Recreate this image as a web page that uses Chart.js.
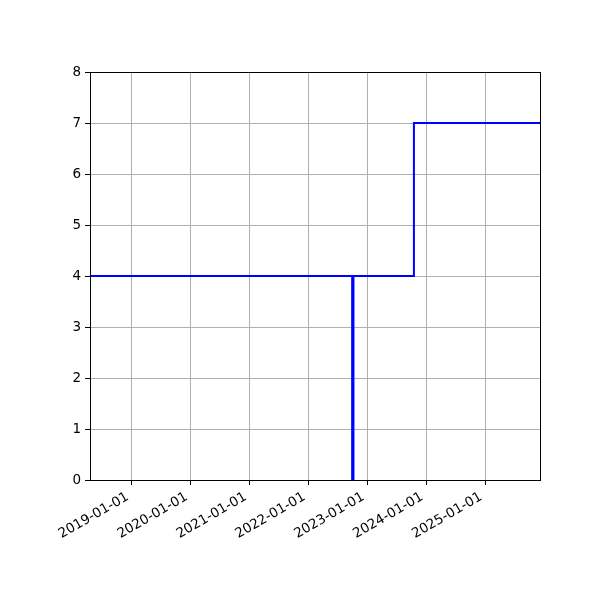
<!DOCTYPE html>
<html>
<head>
<meta charset="utf-8">
<script src="https://cdn.jsdelivr.net/npm/chart.js@4"></script>
<style>
  html, body { margin: 0; padding: 0; background: #fff; }
  #wrap { width: 600px; height: 600px; }
</style>
</head>
<body>
<div id="wrap"><canvas id="chart" width="600" height="600"></canvas></div>
<script>
// step data (value holds until the next date)
const dates = ['2018-04-17', '2022-09-29', '2022-10-07', '2023-10-17', '2025-12-07'];
const values = [4, 0, 4, 7, 7];
const tickDates = ['2019-01-01', '2020-01-01', '2021-01-01', '2022-01-01', '2023-01-01', '2024-01-01', '2025-01-01'];
const yTicks = [0, 1, 2, 3, 4, 5, 6, 7, 8];

const toMs = s => Date.parse(s + 'T00:00:00Z');
const pad = n => String(n).padStart(2, '0');
const fmt = ms => {
    const d = new Date(ms);
    return d.getUTCFullYear() + '-' + pad(d.getUTCMonth() + 1) + '-' + pad(d.getUTCDate());
};

const points = dates.map((d, i) => ({ x: toMs(d), y: values[i] }));

// box around the plot area like matplotlib
const frame = {
    id: 'frame',
    afterDraw(chart) {
        const a = chart.chartArea, ctx = chart.ctx;
        ctx.save();
        ctx.strokeStyle = '#000';
        ctx.lineWidth = 1;
        ctx.strokeRect(Math.round(a.left) + 0.5, Math.round(a.top) + 0.5, Math.round(a.right - a.left), Math.round(a.bottom - a.top));
        ctx.restore();
    }
};

new Chart(document.getElementById('chart').getContext('2d'), {
    type: 'line',
    data: {
        datasets: [{
            data: points,
            stepped: 'before',
            borderColor: '#0000ff',
            borderWidth: 2,
            pointRadius: 0,
            fill: false
        }]
    },
    options: {
        responsive: false,
        animation: false,
        layout: { padding: { left: 0, top: 72, right: 60, bottom: 0 } },
        plugins: { legend: { display: false }, tooltip: { enabled: false } },
        scales: {
            x: {
                type: 'linear',
                min: toMs(dates[0]),
                max: toMs(dates[dates.length - 1]),
                afterBuildTicks: s => { s.ticks = tickDates.map(d => ({ value: toMs(d) })); },
                afterFit: s => { s.height = 120; },
                grid: { color: '#b0b0b0', lineWidth: 1, tickColor: '#000', tickLength: 5 },
                border: { color: '#000', width: 1 },
                ticks: {
                    minRotation: 30, maxRotation: 30, autoSkip: false,
                    labelOffset: -4, padding: 4,
                    color: '#000', font: { family: 'DejaVu Sans', size: 13.5 },
                    callback: v => fmt(v)
                }
            },
            y: {
                min: yTicks[0],
                max: yTicks[yTicks.length - 1],
                afterBuildTicks: s => { s.ticks = yTicks.map(v => ({ value: v })); },
                afterFit: s => { s.width = 90; },
                grid: { color: '#b0b0b0', lineWidth: 1, tickColor: '#000', tickLength: 5 },
                border: { color: '#000', width: 1 },
                ticks: { color: '#000', font: { family: 'DejaVu Sans', size: 13.5 }, padding: 4 }
            }
        }
    },
    plugins: [frame]
});
</script>
</body>
</html>
